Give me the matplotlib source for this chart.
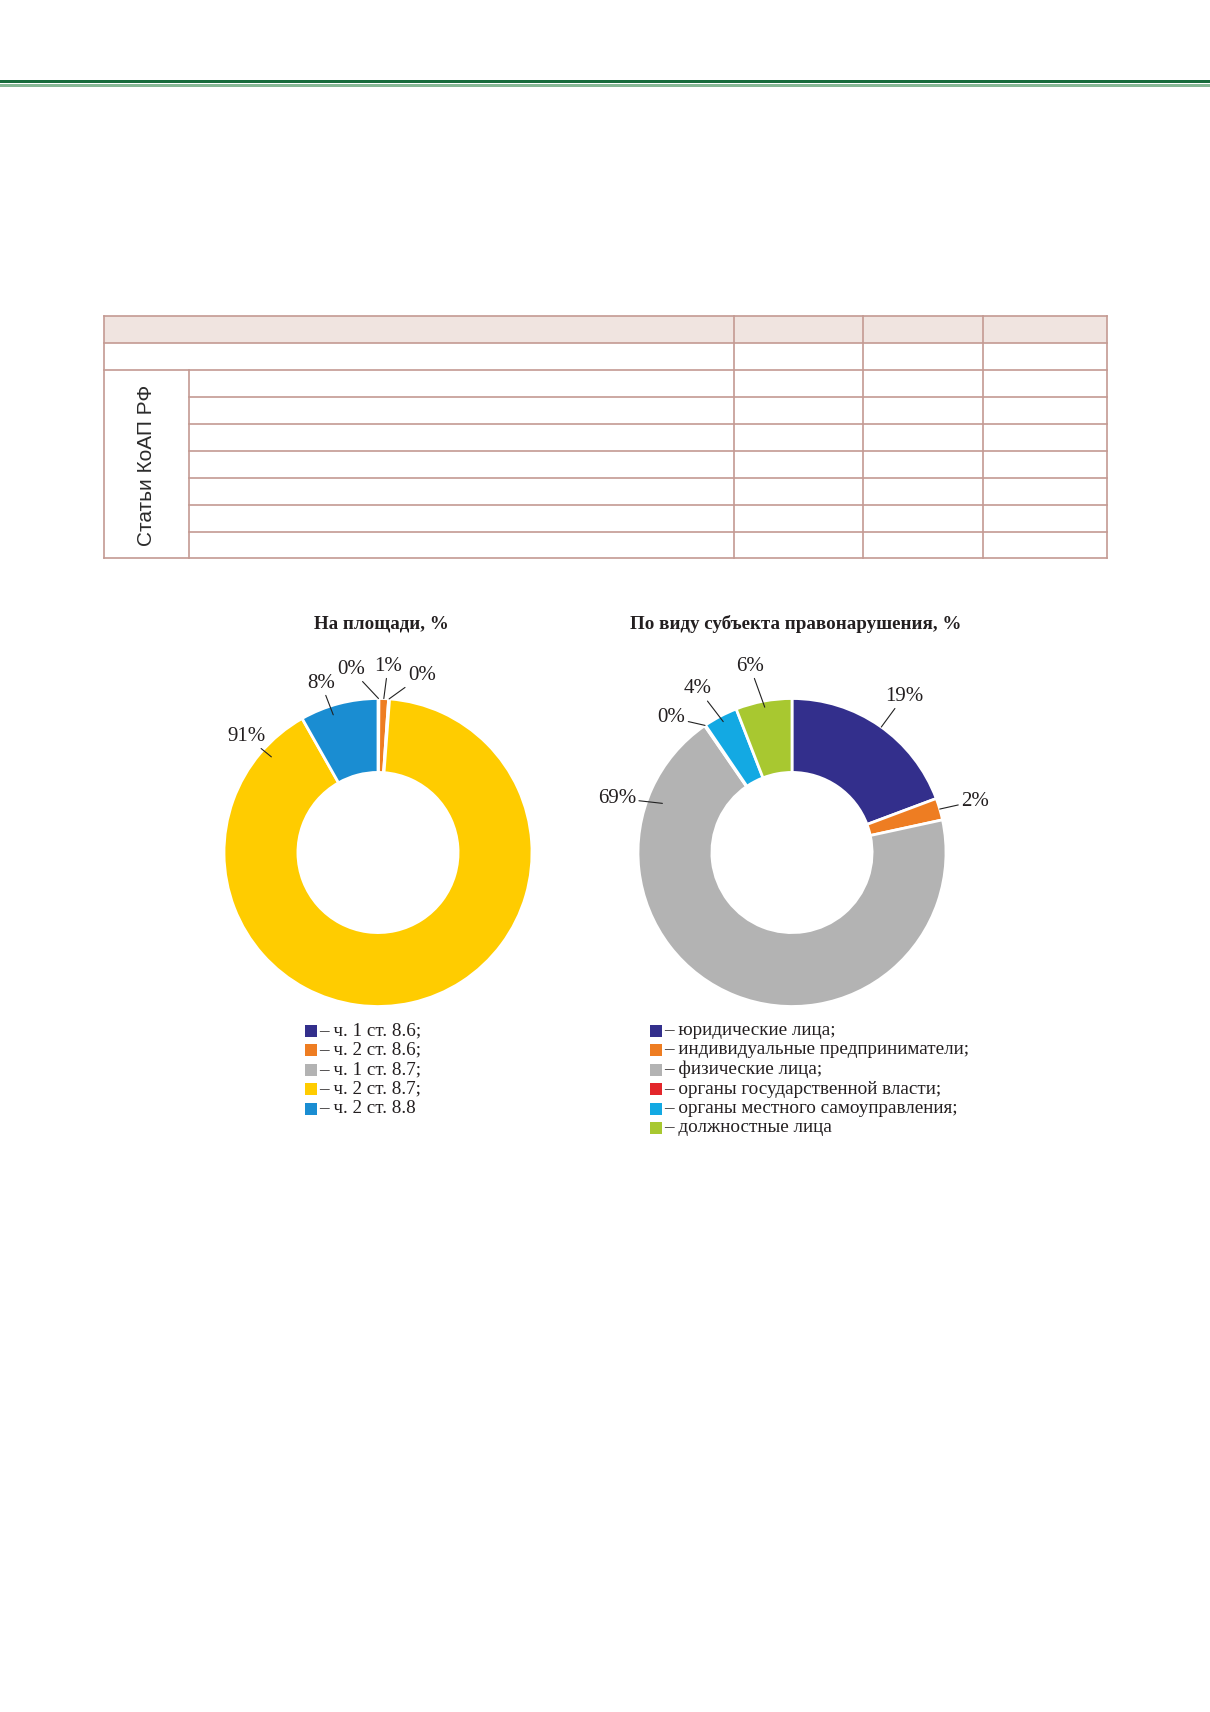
import numpy as np
import matplotlib
matplotlib.use("Agg")
import matplotlib.pyplot as plt
from matplotlib.patches import Rectangle

# ---------------- data ----------------
left_title = "На площади, %"
left_categories = ["ч. 1 ст. 8.6;", "ч. 2 ст. 8.6;", "ч. 1 ст. 8.7;", "ч. 2 ст. 8.7;", "ч. 2 ст. 8.8"]
left_values = [0.1, 1.0, 0.1, 90.6, 8.2]

right_title = "По виду субъекта правонарушения, %"
right_categories = ["юридические лица;", "индивидуальные предприниматели;", "физические лица;",
                    "органы государственной власти;", "органы местного самоуправления;",
                    "должностные лица"]
right_values = [19.3, 2.3, 68.8, 0.1, 3.6, 5.9]

table_side_label = "Статьи КоАП РФ"

# ---------------- styles / layout ----------------
left_colors = ["#332f8c", "#ee7d22", "#b3b3b3", "#ffcc00", "#1a8dd2"]
right_colors = ["#332f8c", "#ee7d22", "#b3b3b3", "#e3262b", "#13a9e3", "#a8c830"]
TEXT = "#231f20"
SERIF = ["Liberation Serif", "DejaVu Serif"]
SANS = ["Liberation Sans", "DejaVu Sans"]

W, H = 1210, 1712
fig = plt.figure(figsize=(W / 100, H / 100), dpi=100)
fig.patch.set_facecolor("white")

# background axes in pixel coordinates
bg = fig.add_axes([0, 0, 1, 1])
bg.set_xlim(0, W)
bg.set_ylim(H, 0)
bg.axis("off")

# green header rule
bg.add_patch(Rectangle((0, 79.8), W, 3.6, color="#176b3b", lw=0))
bg.add_patch(Rectangle((0, 84.4), W, 1.1, color="#86b795", lw=0))
bg.add_patch(Rectangle((0, 86.2), W, 1.1, color="#86b795", lw=0))

# empty table
tcol = "#c49a92"
xs = [103.5, 189, 733.5, 863, 983, 1106.5]
ys = [316, 343, 370, 397, 424, 451, 478, 505, 532, 558]
bg.add_patch(Rectangle((xs[0], ys[0]), xs[-1] - xs[0], ys[1] - ys[0],
                       facecolor="#f0e4e0", edgecolor="none"))
lw = 1.2
bg.plot([xs[0], xs[-1]], [ys[0], ys[0]], color=tcol, lw=lw)
bg.plot([xs[0], xs[-1]], [ys[1], ys[1]], color=tcol, lw=lw)
bg.plot([xs[0], xs[-1]], [ys[2], ys[2]], color=tcol, lw=lw)
for y in ys[3:-1]:
    bg.plot([xs[1], xs[-1]], [y, y], color=tcol, lw=lw)
bg.plot([xs[0], xs[-1]], [ys[-1], ys[-1]], color=tcol, lw=lw)
bg.plot([xs[0], xs[0]], [ys[0], ys[-1]], color=tcol, lw=lw)
bg.plot([xs[1], xs[1]], [ys[2], ys[-1]], color=tcol, lw=lw)
for x in xs[2:]:
    bg.plot([x, x], [ys[0], ys[-1]], color=tcol, lw=lw)
bg.text((xs[0] + xs[1]) / 2, (ys[2] + ys[-1]) / 2 + 1, table_side_label, rotation=90,
        ha="center", va="center", fontsize=15, family=SANS, color="#2b2b2b")

# ---------------- donuts ----------------
R = 154.0
HALF = 240.0


def donut(cx, cy, values, colors, title, label_xy, anchor_frac, anchor_r):
    ax = fig.add_axes([(cx - HALF) / W, 1 - (cy + HALF) / H, 2 * HALF / W, 2 * HALF / H])
    ax.pie(values, colors=colors, startangle=90, counterclock=False, radius=1.0,
           wedgeprops=dict(width=0.48, edgecolor="white", linewidth=2.0))
    lim = HALF / R
    ax.set_xlim(-lim, lim)
    ax.set_ylim(-lim, lim)
    ax.set_aspect("equal")
    ax.axis("off")
    total = float(sum(values))
    cum = np.concatenate([[0.0], np.cumsum(values)])
    for i, v in enumerate(values):
        theta = np.deg2rad(360.0 * (cum[i] + anchor_frac[i] * v) / total)
        px, py = anchor_r[i] * np.sin(theta), anchor_r[i] * np.cos(theta)
        lab = f"{int(round(v))}%"
        ax.annotate(lab, xy=(px, py), xytext=label_xy[i], ha="center", va="center",
                    fontsize=15, family=SERIF, color=TEXT,
                    arrowprops=dict(arrowstyle="-", color="#222222", lw=0.8,
                                    shrinkA=0, shrinkB=0))
    fig.text(cx / W + 0.003, 1 - 624 / H, title, ha="center", va="center",
             fontsize=13.7, fontweight="bold", family=SERIF, color=TEXT)
    return ax


left_label_xy = [(-0.175, 1.19), (0.065, 1.21), (0.284, 1.15), (-0.857, 0.755), (-0.370, 1.10)]
left_anchor_frac = [0.5, 0.5, 0.5, 0.943, 0.39]
left_anchor_r = [1.0, 1.0, 1.0, 0.93, 0.94]
donut(378, 852.5, left_values, left_colors, left_title,
      left_label_xy, left_anchor_frac, left_anchor_r)

right_label_xy = [(0.727, 1.015), (1.188, 0.333), (-1.136, 0.352), (-0.782, 0.875),
                  (-0.610, 1.063), (-0.273, 1.21)]
right_anchor_frac = [0.51, 0.5, 0.86, 0.5, 0.5, 0.5]
right_anchor_r = [1.0, 1.0, 0.9, 1.0, 0.96, 0.96]
donut(792, 852.5, right_values, right_colors, right_title,
      right_label_xy, right_anchor_frac, right_anchor_r)

# ---------------- legends ----------------
def legend(x_sq, x_txt, y0, cats, colors):
    pitch = 19.5
    for i, (c, col) in enumerate(zip(cats, colors)):
        y = y0 + i * pitch
        bg.add_patch(Rectangle((x_sq, y - 6), 12, 12, facecolor=col, edgecolor="none"))
        bg.text(x_txt, y, "– " + c, ha="left", va="center", fontsize=13.8,
                family=SERIF, color=TEXT)


legend(305, 319, 1030.5, left_categories, left_colors)
legend(650, 664, 1030.5, right_categories, right_colors)

fig.savefig("out.png", dpi=100, facecolor="white")
